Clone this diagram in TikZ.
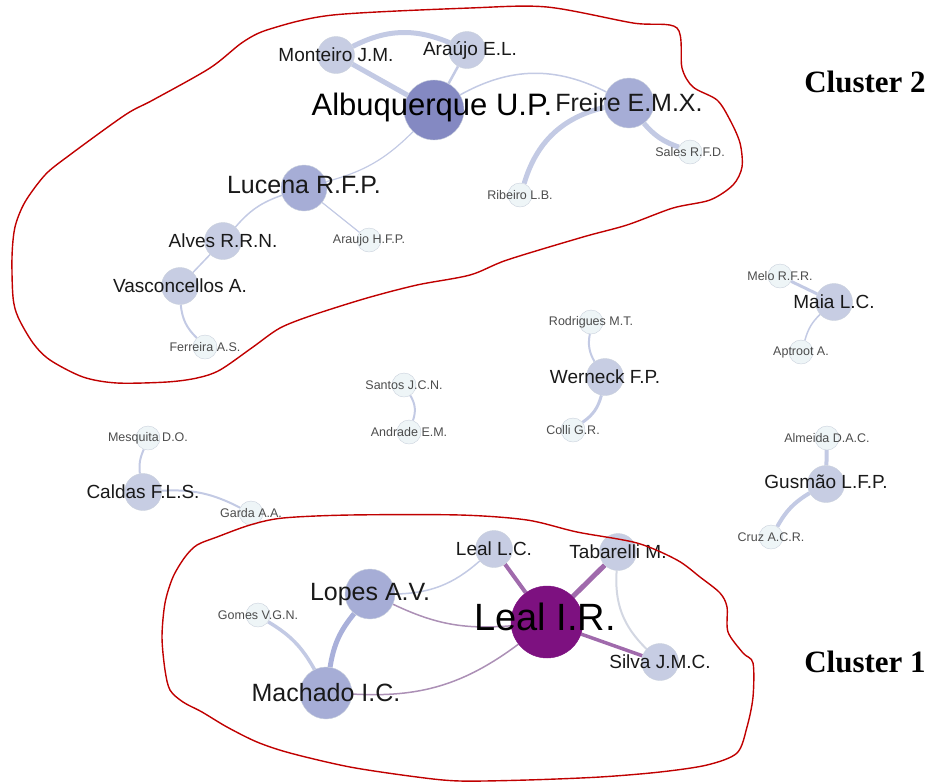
\documentclass[tikz,border=0pt]{standalone}
\usepackage{fontspec}
\setmainfont{Liberation Serif}
\newfontfamily\arialfont{Liberation Sans}
\usetikzlibrary{backgrounds}

\definecolor{nlight}{HTML}{EEF5F7}
\definecolor{nmid}{HTML}{C7CDE3}
\definecolor{ndark}{HTML}{A6ADD6}
\definecolor{nalbu}{HTML}{8489C2}
\definecolor{nleal}{HTML}{7D1180}
\definecolor{ring}{HTML}{C9D0DC}
\definecolor{eblue}{HTML}{C3CAE4}
\definecolor{edark}{HTML}{A9B0DA}
\definecolor{epurple}{HTML}{A06AAC}
\definecolor{ethin}{HTML}{AC90B6}
\definecolor{egray}{HTML}{D3D7E2}
\definecolor{hull}{HTML}{C00000}

\newcommand{\fsz}[1]{\arialfont\fontsize{#1}{#1}\selectfont}

\tikzset{
  au/.style={circle, inner sep=0pt, draw=ring, line width=0.4pt},
  small/.style={au, fill=nlight, minimum size=24pt},
  mid/.style={au, fill=nmid, minimum size=37pt},
  dark/.style={au, fill=ndark, minimum size=48pt},
  txs/.style={font=\fsz{12.5}, text=black!70},
  txm/.style={font=\fsz{19}, text=black!90},
  txl/.style={font=\fsz{25}, text=black!90},
  lnk/.style={draw=eblue, line width=#1},
  plnk/.style={draw=epurple, line width=#1},
  redline/.style={draw=hull, line width=1.4pt}
}

\begin{document}
\begin{tikzpicture}[x=1pt,y=-1pt]
\useasboundingbox (0,0) rectangle (928,782);

% cluster 2
\node[au, fill=nalbu, minimum size=60pt, label={[font=\fsz{31}, xshift=-2pt, yshift=3pt]center:Albuquerque U.P.}] (albu) at (434,110) {};
\node[mid, label={[txm]center:Monteiro J.M.}] (mont) at (336,55) {};
\node[mid, label={[txm, xshift=3pt]center:Araújo E.L.}] (arae) at (467,50) {};
\node[dark, minimum size=50pt, label={[txl]center:Freire E.M.X.}] (freire) at (629,103) {};
\node[small, label={[txs]center:Sales R.F.D.}] (sales) at (690,152) {};
\node[small, label={[txs]center:Ribeiro L.B.}] (ribeiro) at (520,195) {};
\node[dark, minimum size=46pt, label={[txl, yshift=3pt]center:Lucena R.F.P.}] (lucena) at (304,188) {};
\node[small, label={[txs]center:Araujo H.F.P.}] (arah) at (369,240) {};
\node[mid, label={[txm]center:Alves R.R.N.}] (alves) at (223,241) {};
\node[mid, label={[txm]center:Vasconcellos A.}] (vasc) at (180,286) {};
\node[small, label={[txs]center:Ferreira A.S.}] (ferr) at (205,347) {};

% small groups
\node[small, label={[txs]center:Santos J.C.N.}] (santos) at (404,385) {};
\node[small, label={[txs]center:Andrade E.M.}] (andrade) at (409,432) {};
\node[small, label={[txs]center:Rodrigues M.T.}] (rodr) at (591,322) {};
\node[mid, label={[txm]center:Werneck F.P.}] (werneck) at (605,377) {};
\node[small, label={[txs]center:Colli G.R.}] (colli) at (573,430) {};
\node[small, label={[txs]center:Melo R.F.R.}] (melo) at (780,276) {};
\node[mid, label={[txm]center:Maia L.C.}] (maia) at (834,302) {};
\node[small, label={[txs]center:Aptroot A.}] (aptroot) at (801,352) {};
\node[small, label={[txs]center:Almeida D.A.C.}] (almeida) at (827,438) {};
\node[mid, label={[txm, yshift=2pt]center:Gusmão L.F.P.}] (gusmao) at (826,484) {};
\node[small, label={[txs]center:Cruz A.C.R.}] (cruz) at (771,537) {};
\node[small, label={[txs]center:Mesquita D.O.}] (mesq) at (148,438) {};
\node[mid, label={[txm]center:Caldas F.L.S.}] (caldas) at (143,492) {};
\node[small, label={[txs]center:Garda A.A.}] (garda) at (251,513) {};

% cluster 1
\node[au, fill=nleal, draw=nleal, minimum size=72pt, label={[font=\fsz{38}, xshift=-2pt, yshift=5pt]center:Leal I.R.}] (lealir) at (547,622) {};
\node[mid, label={[txm]center:Leal L.C.}] (lealc) at (494,549) {};
\node[mid, label={[txm]center:Tabarelli M.}] (taba) at (618,552) {};
\node[mid, label={[txm]center:Silva J.M.C.}] (silva) at (660,662) {};
\node[dark, minimum size=50pt, label={[txl]center:Lopes A.V.}] (lopes) at (370,594) {};
\node[dark, minimum size=52pt, label={[txl]center:Machado I.C.}] (machado) at (326,693) {};
\node[small, label={[txs]center:Gomes V.G.N.}] (gomes) at (258,615) {};

\node[font=\bfseries\fontsize{31}{31}\selectfont] (c2) at (865,82) {Cluster 2};
\node[font=\bfseries\fontsize{31}{31}\selectfont] (c1) at (865,662) {Cluster 1};

% links
\begin{scope}[on background layer]
\draw[lnk=5pt] (mont) to[bend left=25] (arae);
\draw[lnk=5pt] (mont) -- (albu);
\draw[lnk=2.5pt] (arae) -- (albu);
\draw[lnk=1.5pt] (albu) to[bend left=28] (freire);
\draw[lnk=1.2pt] (albu) to[bend left=15] (lucena);
\draw[lnk=5pt] (freire) to[bend right=15] (sales);
\draw[lnk=5pt] (freire) to[bend right=30] (ribeiro);
\draw[lnk=1.5pt] (lucena) to[bend right=15] (alves);
\draw[lnk=1.2pt] (lucena) -- (arah);
\draw[lnk=1.5pt] (alves) -- (vasc);
\draw[lnk=2pt] (vasc) to[bend right=20] (ferr);
\draw[lnk=2pt] (santos) to[bend left=25] (andrade);
\draw[lnk=2pt] (rodr) to[bend right=20] (werneck);
\draw[lnk=3pt] (werneck) to[bend left=20] (colli);
\draw[lnk=3pt] (melo) -- (maia);
\draw[lnk=1.5pt] (maia) to[bend right=15] (aptroot);
\draw[lnk=4pt] (almeida) -- (gusmao);
\draw[lnk=4pt] (gusmao) to[bend right=15] (cruz);
\draw[lnk=2pt] (mesq) to[bend right=15] (caldas);
\draw[lnk=2pt] (caldas) to[bend left=15] (garda);
\draw[plnk=4pt] (lealir) -- (lealc);
\draw[plnk=5pt] (lealir) -- (taba);
\draw[plnk=3.5pt] (lealir) -- (silva);
\draw[draw=ethin, line width=1.5pt] (lopes) to[bend right=15] (lealir);
\draw[draw=ethin, line width=1.5pt] (machado) to[bend right=20] (lealir);
\draw[lnk=1.5pt] (lopes) to[bend right=20] (lealc);
\draw[draw=edark, line width=5pt] (lopes) to[bend right=15] (machado);
\draw[lnk=3.5pt] (gomes) to[bend left=15] (machado);
\draw[draw=egray, line width=2pt] (taba) to[bend right=25] (silva);
\end{scope}

% hand drawn outlines
\draw[redline] plot[smooth cycle, tension=0.5] coordinates {
  (12,257) (15,227) (25,202) (45,175) (67,157) (125,115) (153,100) (210,68)
  (243,42) (270,29) (333,15) (470,8) (547,7) (633,23) (677,28) (682,68)
  (693,87) (717,100) (730,120) (740,143) (742,167) (733,185) (710,200)
  (673,208) (627,225) (583,237) (507,260) (470,275) (417,285) (367,298)
  (313,315) (280,328) (253,347) (220,370) (197,378) (167,382) (117,383)
  (83,377) (50,360) (33,343) (18,317) (13,297)};
\draw[redline] plot[smooth cycle, tension=0.5] coordinates {
  (250,525) (283,518) (350,515) (460,515) (527,520) (577,532) (637,543)
  (677,560) (700,577) (720,593) (727,607) (728,632) (743,653) (753,663)
  (753,697) (747,727) (737,753) (707,765) (660,772) (600,777) (527,780)
  (460,781) (417,777) (350,767) (290,753) (257,742) (227,727) (202,712)
  (183,702) (170,690) (165,670) (162,637) (165,603) (173,577) (185,557)
  (197,545) (217,537)};
\end{tikzpicture}
\end{document}
